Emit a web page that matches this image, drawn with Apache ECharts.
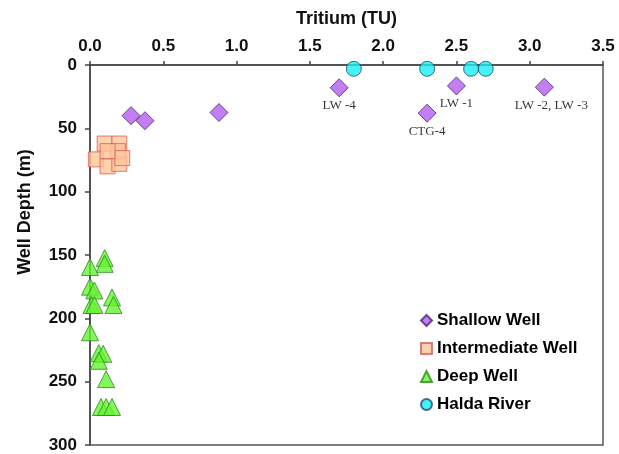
<!DOCTYPE html>
<html>
<head>
<meta charset="utf-8">
<style>
  html, body { margin: 0; padding: 0; background: #fff; }
  #chart { width: 619px; height: 454px; }
</style>
<script src="https://cdn.jsdelivr.net/npm/echarts@6/dist/echarts.min.js"></script>
</head>
<body>
<div id="chart"></div>
<script>
// Tritium (TU) against well depth (m), by sample source
const riverTU = [1.8, 2.3, 2.6, 2.7];
const riverDepth = [3, 3, 3, 3];

const shallowTU = [0.28, 0.375, 0.88, 1.7, 2.5, 2.3, 3.1];
const shallowDepth = [40, 44, 37.5, 18, 16.5, 38, 17.5];
const shallowNames = ['', '', '', 'LW -4', 'LW -1', 'CTG-4', 'LW -2, LW -3'];

const interTU = [0.04, 0.10, 0.20, 0.12, 0.20, 0.19, 0.22, 0.12];
const interDepth = [74.5, 62, 62, 80, 78, 68, 73.5, 68];

const deepTU = [0.10, 0.10, 0.00, 0.00, 0.03, 0.01, 0.03, 0.15, 0.16, 0.00, 0.06, 0.09, 0.06, 0.11, 0.075, 0.11, 0.15];
const deepDepth = [152.5, 157, 159.5, 175, 178, 189.5, 189.5, 183.5, 189.5, 211, 227.5, 228, 233.5, 248, 270, 270, 270];

const xTicks = { min: 0, max: 3.5, step: 0.5 };
const yTicks = { min: 0, max: 300, step: 50 };

const pairs = (xs, ys) => xs.map((x, i) => [x, ys[i]]);

const FONT = 'Liberation Sans, Arial, sans-serif';
const AXIS_COLOR = '#454545';

const chart = echarts.init(document.getElementById('chart'));

const shallowData = shallowTU.map((x, i) => {
  const item = { value: [x, shallowDepth[i]] };
  if (shallowNames[i]) {
    item.label = {
      show: true,
      formatter: shallowNames[i],
      position: 'bottom',
      distance: 2,
      offset: shallowNames[i].indexOf(',') > 0 ? [7, 0] : [0, 0],
      fontFamily: 'Liberation Serif, Times New Roman, serif',
      fontSize: 13,
      color: '#000'
    };
  }
  return item;
});

chart.setOption({
  animation: false,
  backgroundColor: '#fff',
  grid: {
    left: 90, top: 65, width: 513, height: 380,
    show: true, borderColor: '#555', borderWidth: 1.5, backgroundColor: 'transparent'
  },
  xAxis: {
    type: 'value',
    position: 'top',
    min: xTicks.min, max: xTicks.max, interval: xTicks.step,
    name: 'Tritium (TU)',
    nameLocation: 'middle',
    nameGap: 37,
    nameTextStyle: { fontFamily: FONT, fontWeight: 'bold', fontSize: 18, color: '#111' },
    axisLine: { show: true, lineStyle: { color: AXIS_COLOR, width: 1.5 } },
    axisTick: { show: true, inside: false, length: 4, lineStyle: { color: AXIS_COLOR, width: 1.5 } },
    axisLabel: {
      margin: 10, fontFamily: FONT, fontWeight: 'bold', fontSize: 17, color: '#111',
      formatter: v => v.toFixed(1)
    },
    splitLine: { show: false }
  },
  yAxis: {
    type: 'value',
    inverse: true,
    min: yTicks.min, max: yTicks.max, interval: yTicks.step,
    axisLine: { show: true, lineStyle: { color: AXIS_COLOR, width: 1.5 } },
    axisTick: { show: true, inside: false, length: 5, lineStyle: { color: AXIS_COLOR, width: 1.5 } },
    axisLabel: { margin: 13, fontFamily: FONT, fontWeight: 'bold', fontSize: 17, color: '#111' },
    splitLine: { show: false }
  },
  legend: {
    orient: 'vertical',
    left: 415, top: 307,
    itemWidth: 11, itemHeight: 11, itemGap: 11,
    textStyle: { fontFamily: FONT, fontWeight: 'bold', fontSize: 17, color: '#000' },
    data: ['Shallow Well', 'Intermediate Well', 'Deep Well', 'Halda River']
  },
  graphic: [{
    type: 'text',
    x: 25, y: 212,
    rotation: Math.PI / 2,
    style: {
      text: 'Well Depth (m)',
      font: 'bold 18px ' + FONT,
      fill: '#111',
      textAlign: 'center',
      textVerticalAlign: 'middle'
    }
  }],
  series: [
    {
      name: 'Shallow Well', type: 'scatter', clip: false,
      symbol: 'diamond', symbolSize: 18,
      itemStyle: { color: '#B45EF0', borderColor: '#4A2670', borderWidth: 1 },
      data: shallowData
    },
    {
      name: 'Intermediate Well', type: 'scatter', clip: false,
      symbol: 'rect', symbolSize: 15,
      itemStyle: { color: '#FDC49A', borderColor: '#D5605A', borderWidth: 1 },
      data: pairs(interTU, interDepth)
    },
    {
      name: 'Deep Well', type: 'scatter', clip: false,
      symbol: 'triangle', symbolSize: 17,
      itemStyle: { color: '#66F233', borderColor: '#2A8A1A', borderWidth: 1 },
      data: pairs(deepTU, deepDepth)
    },
    {
      name: 'Halda River', type: 'scatter', clip: false,
      symbol: 'circle', symbolSize: 15,
      itemStyle: { color: '#19EEF2', borderColor: '#1F4A78', borderWidth: 1 },
      data: pairs(riverTU, riverDepth)
    }
  ]
});
</script>
</body>
</html>
